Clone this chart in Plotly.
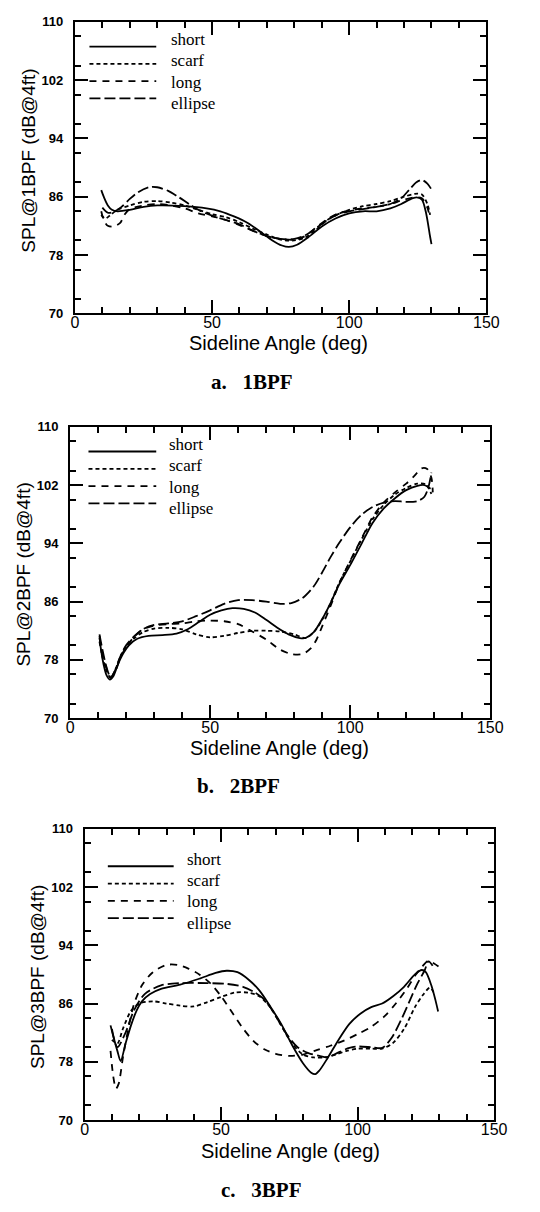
import plotly.graph_objects as go

# ---- data ----
series_names = ["short", "scarf", "long", "ellipse"]
panel_labels = ["a.\u00a0\u00a0 1BPF", "b.\u00a0\u00a0 2BPF", "c.\u00a0\u00a0 3BPF"]
y_titles = ["SPL@1BPF (dB@4ft)", "SPL@2BPF (dB@4ft)", "SPL@3BPF (dB@4ft)"]
x_title = "Sideline Angle (deg)"
x_ticks = [0, 50, 100, 150]
y_ticks = [70, 78, 86, 94, 102, 110]

# a. 1BPF
a_short_x = [9.6, 10.5, 12, 13.5, 15.5, 20, 25, 30, 40, 48, 53, 58, 63, 68, 72, 75.5, 78, 81, 85, 90,
             95, 100, 105, 110, 115, 119, 122, 124.5, 126.5, 128, 129.5, 130]
a_short_y = [86.9, 86.0, 84.8, 84.2, 84.0, 84.2, 84.6, 84.8, 84.7, 84.4, 84.0, 83.3, 82.4, 81.1, 80.0, 79.3,
             79.1, 79.4, 80.4, 81.9, 83.0, 83.7, 84.0, 84.0, 84.4, 85.0, 85.6, 85.9, 85.6, 83.8, 80.5, 79.5]
a_scarf_x = [9.6, 11, 13, 15.5, 20, 25, 30, 35, 40, 45, 50, 55, 60, 65, 70, 75, 80, 84, 88, 92, 96, 100,
             105, 110, 115, 120, 124, 126.5, 128.5, 129.5]
a_scarf_y = [83.5, 83.0, 83.5, 84.2, 84.8, 85.3, 85.4, 85.2, 84.8, 84.2, 83.6, 83.2, 82.5, 81.6, 80.8, 80.1,
             80.0, 80.4, 81.5, 82.8, 83.6, 84.2, 84.7, 85.0, 85.4, 86.0, 86.4, 86.3, 85.0, 83.5]
a_long_x = [9.6, 10.5, 12, 14, 16.5, 18, 20, 25, 30, 35, 40, 45, 50, 55, 60, 65, 70, 75, 80, 84, 88, 92,
            96, 100, 105, 110, 115, 120, 124, 126.5, 128.5, 129.5]
a_long_y = [84.0, 82.8, 82.0, 81.9, 82.4, 83.5, 84.3, 84.8, 85.0, 84.8, 84.4, 83.7, 83.3, 82.8, 82.1, 81.3,
            80.6, 80.2, 80.1, 80.6, 81.8, 82.9, 83.7, 84.1, 84.4, 84.6, 85.0, 85.6, 85.9, 85.8, 84.5, 83.0]
a_ellipse_x = [10, 12, 14, 17, 20, 23, 27, 30, 34, 38, 42, 46, 50, 55, 60, 65, 70, 75, 80, 84, 88, 92, 96,
               100, 105, 110, 115, 119, 122, 124.5, 126.5, 128.5, 130]
a_ellipse_y = [84.5, 83.8, 83.9, 84.6, 85.7, 86.6, 87.3, 87.3, 86.8, 85.9, 84.9, 84.0, 83.4, 82.8, 82.2, 81.3,
               80.6, 80.2, 80.2, 80.7, 81.7, 82.8, 83.6, 84.0, 84.3, 84.6, 85.0, 85.8, 87.0, 88.0, 88.3, 87.8, 87.0]

# b. 2BPF
b_short_x = [10.5, 11, 12, 13, 14.2, 15.5, 17, 19, 21, 24, 28, 33, 38, 42, 46, 50, 54, 58, 62, 66, 70, 74,
             78, 82, 84, 87, 90, 93, 96, 100, 104, 108, 112, 116, 120, 124, 126.5, 128.7]
b_short_y = [81.3, 79.5, 77.3, 75.9, 75.3, 75.8, 77.3, 78.9, 80.0, 80.9, 81.3, 81.4, 81.6, 82.2, 83.2, 84.2,
             84.8, 85.1, 85.0, 84.5, 83.5, 82.4, 81.5, 81.0, 81.0, 81.8, 83.6, 85.8, 88.3, 91.0, 93.9, 96.8,
             98.8, 100.2, 101.3, 101.9, 102.0, 101.5]
b_scarf_x = [10.5, 11.5, 13, 14.5, 16, 18, 20, 23, 26, 30, 35, 40, 45, 50, 55, 60, 65, 70, 75, 80, 84, 87,
             90, 93, 96, 100, 104, 108, 112, 116, 120, 124, 127, 129]
b_scarf_y = [80.5, 78.5, 76.5, 75.5, 76.5, 78.5, 79.8, 81.0, 81.8, 82.3, 82.4, 82.2, 81.5, 81.1, 81.3, 81.7,
             82.0, 82.0, 81.9, 81.5, 81.0, 81.8, 83.5, 85.8, 88.5, 91.5, 94.5, 97.3, 99.3, 100.7, 101.6,
             102.2, 102.1, 100.8]
b_long_x = [10.5, 11.5, 13, 14.5, 16, 18, 20, 23, 26, 30, 35, 40, 45, 50, 55, 60, 65, 70, 75, 79, 83, 86,
            88, 90, 93, 96, 100, 104, 108, 112, 116, 120, 123, 125.5, 127.5, 129, 129.5]
b_long_y = [81.0, 79.0, 76.8, 75.6, 76.3, 78.3, 79.8, 81.2, 82.2, 82.7, 82.9, 83.0, 83.3, 83.4, 83.3, 82.9,
            81.9, 80.8, 79.4, 78.8, 78.8, 79.6, 80.8, 82.6, 85.4, 88.4, 91.6, 94.6, 97.6, 99.6, 101.0, 102.2,
            103.3, 104.3, 104.2, 103.0, 101.0]
b_ellipse_x = [10.5, 11.5, 13, 14.5, 16, 18, 20, 23, 26, 30, 35, 40, 45, 50, 55, 60, 65, 70, 75, 79, 83, 87,
               90, 93, 96, 100, 104, 108, 112, 116, 120, 124, 126.5, 128, 129]
b_ellipse_y = [81.5, 79.5, 77.0, 75.6, 76.5, 78.5, 80.0, 81.3, 82.2, 82.8, 83.0, 83.3, 84.0, 84.8, 85.7, 86.2,
               86.2, 86.0, 85.7, 85.8, 86.5, 88.1, 90.0, 92.1, 94.0, 96.2, 97.9, 99.0, 99.6, 99.8, 99.7, 99.8,
               100.4, 101.8, 103.7]

# c. 3BPF
c_short_x = [9.5, 10.5, 12, 13.2, 15, 17, 19, 21, 24, 28, 35, 42, 48, 52, 56, 60, 64, 68, 72, 76, 80, 83,
             84.5, 86, 89, 93, 97, 101, 105, 109, 113, 117, 121, 123.5, 125, 127, 128.5, 129.5]
c_short_y = [83.0, 81.5, 79.5, 78.1, 80.5, 83.0, 85.0, 86.3, 87.3, 88.0, 88.6, 89.4, 90.2, 90.5, 90.3, 89.3,
             87.8, 85.6, 83.2, 80.3, 77.8, 76.5, 76.3, 76.8, 78.5, 81.0, 83.2, 84.6, 85.5, 86.0, 87.0, 88.3,
             90.0, 90.6, 90.3, 88.5, 86.5, 84.9]
c_scarf_x = [10, 12, 14, 17, 20, 25, 30, 35, 40, 45, 50, 55, 60, 64, 68, 72, 76, 80, 84, 88, 92, 96, 100,
             105, 109, 113, 117, 121, 124, 126.5, 128]
c_scarf_y = [81.0, 80.5, 82.5, 85.0, 86.0, 86.3, 86.0, 85.7, 85.6, 86.2, 86.9, 87.5, 87.5, 87.0, 85.5, 83.0,
             80.5, 79.0, 78.6, 78.6, 79.0, 79.5, 79.8, 79.8, 79.8, 80.6, 82.5, 85.5, 87.2, 88.2, 87.4]
c_long_x = [9.5, 10.5, 11.5, 12.5, 14, 16, 18, 21, 25, 30, 34, 38, 42, 46, 50, 54, 58, 62, 66, 70, 75, 80,
            85, 90, 95, 100, 105, 110, 114, 118, 121, 123.5, 126, 128, 130]
c_long_y = [79.5, 76.0, 74.3, 75.0, 78.5, 82.5, 85.8, 88.5, 90.3, 91.3, 91.3, 90.8, 90.0, 88.8, 87.0, 84.8,
            82.6, 80.8, 79.7, 79.1, 78.8, 79.0, 79.6, 80.2, 80.9, 81.8, 82.8, 84.3, 86.0, 88.0, 89.8, 91.0,
            91.9, 91.5, 91.0]
c_ellipse_x = [10, 12, 15, 18, 22, 28, 35, 45, 52, 58, 62, 66, 70, 74, 78, 82, 86, 89, 93, 97, 100, 105,
               109, 112.5, 116, 119, 122, 124.5, 126, 127.5]
c_ellipse_y = [82.5, 80.0, 82.0, 85.0, 87.3, 88.5, 88.8, 88.8, 88.7, 88.3, 87.6, 86.5, 84.3, 81.8, 80.0, 79.2,
               78.8, 78.6, 79.3, 79.9, 80.1, 80.0, 79.9, 81.3, 83.8, 86.3, 88.8, 90.5, 91.8, 91.2]

panels = [
    [(a_short_x, a_short_y), (a_scarf_x, a_scarf_y), (a_long_x, a_long_y), (a_ellipse_x, a_ellipse_y)],
    [(b_short_x, b_short_y), (b_scarf_x, b_scarf_y), (b_long_x, b_long_y), (b_ellipse_x, b_ellipse_y)],
    [(c_short_x, c_short_y), (c_scarf_x, c_scarf_y), (c_long_x, c_long_y), (c_ellipse_x, c_ellipse_y)],
]

# ---- styling ----
# the page body has an 8px margin, so the figure is 8px smaller and positions are shifted back by 8
PAGE_W, PAGE_H, OFF = 540, 1212, 8
W, H = PAGE_W - OFF, PAGE_H - OFF
dashes = ["solid", "4px,3px", "7px,6px", "11px,4px"]
# plot boxes in page pixels: left, right, top, bottom
boxes = [(73, 498, 15, 310), (68, 502, 425, 720), (83, 506, 832, 1127)]
# legend: line start/end x, text x, first row y
legend_pos = [(88, 157, 170, 33), (87, 157, 168, 443), (107, 175, 187, 863)]
x_title_pos = [(283, 340), (284, 750), (296, 1158)]
y_title_pos = [(25, 155), (20, 575), (35, 982)]
label_pos = [(256, 380), (242, 789), (265, 1198)]

fig = go.Figure()
shapes = []
annotations = []


def px_x(v):
    return (v - OFF) / W


def px_y(v):
    return 1 - (v - OFF) / H


for i, curves in enumerate(panels):
    suffix = "" if i == 0 else str(i + 1)
    for name, dash, (xs, ys) in zip(series_names, dashes, curves):
        fig.add_trace(go.Scatter(
            x=xs, y=ys, mode="lines", name=name, showlegend=False,
            line=dict(color="black", width=1.8, dash=dash, shape="spline", smoothing=0.8),
            xaxis="x" + suffix, yaxis="y" + suffix,
        ))

    l, r, t, b = boxes[i]
    fig.layout["xaxis" + suffix] = dict(
        domain=[px_x(l), px_x(r)], range=[0, 150], anchor="y" + suffix,
        tickvals=x_ticks, ticks="inside", ticklen=13, tickwidth=2, tickcolor="black",
        minor=dict(dtick=10, ticks="inside", ticklen=6, tickwidth=1.5, tickcolor="black"),
        showline=True, linewidth=2, linecolor="black", mirror="allticks",
        showgrid=False, zeroline=False, ticklabelstandoff=-6,
        tickfont=dict(family="Liberation Sans, Arial", size=16, color="black"),
    )
    fig.layout["yaxis" + suffix] = dict(
        domain=[px_y(b), px_y(t)], range=[70, 110], anchor="x" + suffix,
        tickvals=y_ticks, ticks="inside", ticklen=13, tickwidth=2, tickcolor="black",
        minor=dict(dtick=4, ticks="inside", ticklen=6, tickwidth=1.5, tickcolor="black"),
        showline=True, linewidth=2, linecolor="black", mirror="allticks",
        showgrid=False, zeroline=False, ticklabelstandoff=7,
        tickfont=dict(family="Liberation Sans, Arial", size=13, color="black", weight="bold"),
    )

    # legend drawn inside the box
    lx0, lx1, tx, ty = legend_pos[i]
    for k, (name, dash) in enumerate(zip(series_names, dashes)):
        row_y = ty + 21.5 * k
        line_y = row_y + 7 - 4 * k
        shapes.append(dict(type="line", xref="paper", yref="paper",
                           x0=px_x(lx0), x1=px_x(lx1), y0=px_y(line_y), y1=px_y(line_y),
                           line=dict(color="black", width=1.8, dash=dash)))
        annotations.append(dict(text=name, xref="paper", yref="paper", x=px_x(tx), y=px_y(row_y),
                                xanchor="left", yanchor="middle", showarrow=False,
                                font=dict(family="Liberation Serif, Times New Roman", size=17, color="black")))

    annotations.append(dict(text=x_title, xref="paper", yref="paper",
                            x=px_x(x_title_pos[i][0]), y=px_y(x_title_pos[i][1]),
                            xanchor="center", yanchor="middle", showarrow=False,
                            font=dict(family="Liberation Sans, Arial", size=20, color="black")))
    annotations.append(dict(text=y_titles[i], xref="paper", yref="paper", textangle=-90,
                            x=px_x(y_title_pos[i][0]), y=px_y(y_title_pos[i][1]),
                            xanchor="center", yanchor="middle", showarrow=False,
                            font=dict(family="Liberation Sans, Arial", size=19, color="black")))
    annotations.append(dict(text=panel_labels[i], xref="paper", yref="paper",
                            x=px_x(label_pos[i][0]), y=px_y(label_pos[i][1]),
                            xanchor="center", yanchor="middle", showarrow=False,
                            font=dict(family="Liberation Serif, Times New Roman", size=21,
                                      color="black", weight="bold")))

fig.update_layout(
    width=W, height=H,
    margin=dict(l=0, r=0, t=0, b=0),
    paper_bgcolor="white", plot_bgcolor="white",
    showlegend=False,
    shapes=shapes,
    annotations=annotations,
)

fig.write_html("out.html")
